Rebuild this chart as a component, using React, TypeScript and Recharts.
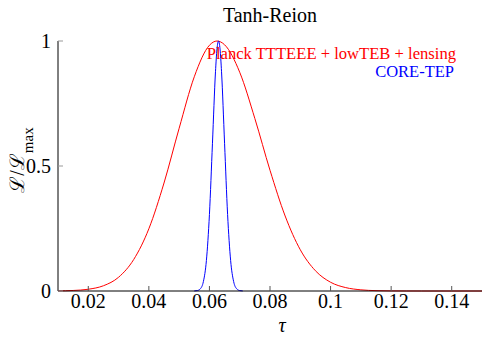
import { LineChart, Line, XAxis, YAxis } from "recharts";

// Planck TTTEEE + lowTEB + lensing (red)
const redTau = [
  0.01, 0.015, 0.02, 0.025, 0.03, 0.035, 0.04, 0.045, 0.05, 0.055, 0.06, 0.0625,
  0.065, 0.07, 0.075, 0.08, 0.085, 0.09, 0.095, 0.1, 0.105, 0.11, 0.115, 0.12,
  0.125, 0.13, 0.14, 0.15,
];
const redLike = [
  0.0005, 0.0021, 0.007, 0.021, 0.055, 0.126, 0.249, 0.432, 0.651, 0.857, 0.983, 1,
  0.985, 0.875, 0.69, 0.483, 0.3, 0.165, 0.081, 0.035, 0.0136, 0.0047, 0.0014, 0.0004,
  0.0001, 0, 0, 0,
];

// CORE-TEP forecast (blue)
const blueTau = [
  0.055, 0.056, 0.057, 0.058, 0.059, 0.06, 0.061, 0.062, 0.0625, 0.063, 0.0635,
  0.064, 0.065, 0.066, 0.067, 0.068, 0.069, 0.07, 0.071,
];
const blueLike = [
  0.0002, 0.0016, 0.0088, 0.0374, 0.122, 0.306, 0.591, 0.877, 0.968, 1, 0.968,
  0.877, 0.591, 0.306, 0.122, 0.0374, 0.0088, 0.0016, 0.0002,
];

const xTicks = [0.02, 0.04, 0.06, 0.08, 0.1, 0.12, 0.14];
const yTicks = [0, 0.5, 1];

const redData = redTau.map((t, i) => ({ tau: t, like: redLike[i] }));
const blueData = blueTau.map((t, i) => ({ tau: t, like: blueLike[i] }));

const serif = "Liberation Serif";

function XTick({ x, y, payload }: any) {
  return (
    <text x={x} y={y} dy={14} textAnchor="middle" fontFamily={serif} fontSize={20} fill="#000">
      {String(payload.value)}
    </text>
  );
}

function YTick({ x, y, payload }: any) {
  return (
    <text x={x} y={y} dy={7} textAnchor="end" fontFamily={serif} fontSize={20} fill="#000">
      {String(payload.value)}
    </text>
  );
}

function YLabel({ viewBox }: any) {
  const cx = viewBox.x + 16;
  const cy = viewBox.y + viewBox.height / 2 - 6;
  return (
    <text
      x={cx}
      y={cy}
      transform={`rotate(-90 ${cx} ${cy})`}
      textAnchor="middle"
      fontFamily={serif}
      fontSize={20}
      fill="#000"
    >
      ℒ/ℒ
      <tspan fontSize={15} dy={9}>
        max
      </tspan>
    </text>
  );
}

function XLabel({ viewBox }: any) {
  return (
    <text
      x={viewBox.x + viewBox.width / 2 + 12}
      y={viewBox.y + 41}
      textAnchor="middle"
      fontFamily={serif}
      fontStyle="italic"
      fontSize={20}
      fill="#000"
    >
      τ
    </text>
  );
}

export default function App() {
  return (
    <div style={{ position: "relative", width: 492, height: 342, fontFamily: serif }}>
      <div
        style={{
          position: "absolute",
          left: 162,
          width: 200,
          top: -3,
          textAlign: "center",
          fontSize: 20,
          lineHeight: "20px",
        }}
      >
        Tanh-Reion
      </div>
      <div
        style={{
          position: "absolute",
          right: 44,
          top: 38,
          fontSize: 16.6,
          lineHeight: "15px",
          color: "#ff0000",
          whiteSpace: "nowrap",
          zIndex: 2,
        }}
      >
        Planck TTTEEE + lowTEB + lensing
      </div>
      <div
        style={{
          position: "absolute",
          right: 46,
          top: 56,
          fontSize: 16.5,
          lineHeight: "15px",
          color: "#0000ff",
          whiteSpace: "nowrap",
          zIndex: 2,
        }}
      >
        CORE-TEP
      </div>
      <LineChart width={492} height={342} margin={{ top: 33, right: 18, bottom: 0, left: 0 }}>
        <XAxis
          dataKey="tau"
          type="number"
          domain={[0.01, 0.15]}
          ticks={xTicks}
          interval={0}
          height={59}
          tickSize={-5}
          tickMargin={8}
          tickLine={{ stroke: "#555" }}
          axisLine={{ stroke: "#000" }}
          tick={<XTick />}
          label={<XLabel />}
        />
        <XAxis
          xAxisId="top"
          orientation="top"
          dataKey="tau"
          type="number"
          domain={[0.01, 0.15]}
          ticks={xTicks}
          interval={0}
          height={0}
          tick={false}
          tickSize={-5}
          tickLine={{ stroke: "#333" }}
          axisLine={{ stroke: "#000" }}
        />
        <YAxis
          type="number"
          domain={[0, 1]}
          ticks={yTicks}
          interval={0}
          width={50}
          tickSize={-5}
          tickMargin={12}
          tickLine={{ stroke: "#999" }}
          axisLine={{ stroke: "#000" }}
          tick={<YTick />}
          label={<YLabel />}
        />
        <YAxis
          yAxisId="right"
          orientation="right"
          type="number"
          domain={[0, 1]}
          width={0}
          tick={false}
          tickLine={false}
          axisLine={{ stroke: "#000" }}
        />
        <Line
          data={redData}
          dataKey="like"
          type="monotone"
          stroke="#ff0000"
          strokeWidth={1}
          dot={false}
          isAnimationActive={false}
        />
        <Line
          data={blueData}
          dataKey="like"
          type="monotone"
          stroke="#0000ff"
          strokeWidth={1}
          dot={false}
          isAnimationActive={false}
        />
      </LineChart>
    </div>
  );
}
